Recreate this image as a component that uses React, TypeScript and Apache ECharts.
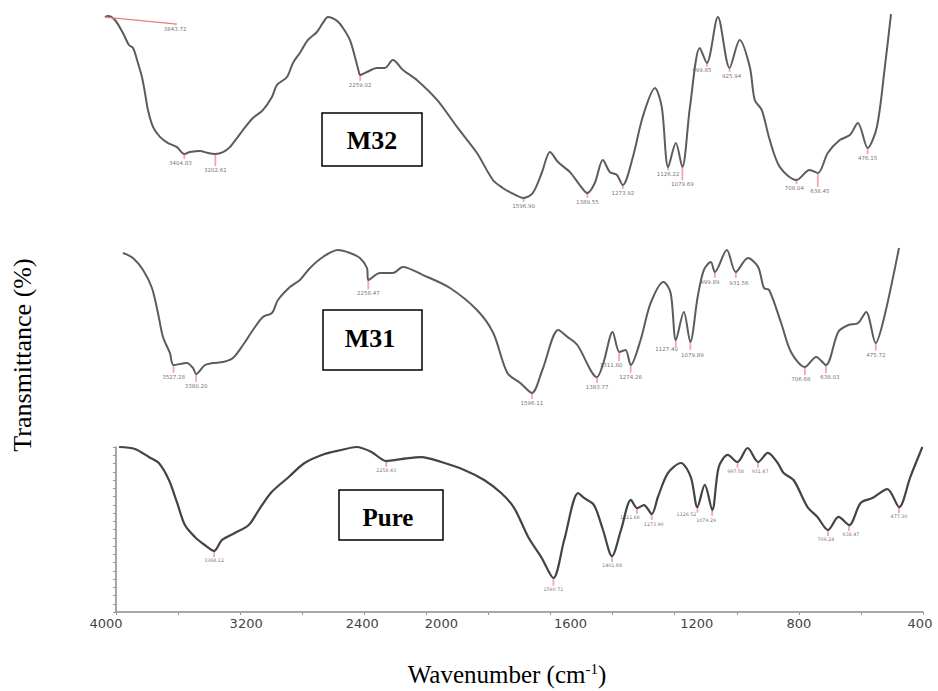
import React, { useEffect, useRef } from 'react';
import * as echarts from 'echarts';

// ---------- data (wavenumber in cm-1, transmittance in relative %) ----------
const M32_WN = [3922, 3902, 3857, 3805, 3766, 3739, 3713, 3681, 3661, 3642, 3609, 3564, 3511, 3453, 3405, 3368, 3303, 3251, 3203, 3153, 3108, 3062, 3023, 2958, 2893, 2834, 2801, 2736, 2697, 2652, 2599, 2541, 2502, 2469, 2410, 2371, 2326, 2293, 2270, 2259, 2215, 2150, 2098, 2046, 1990, 1945, 1879, 1814, 1749, 1697, 1665, 1642, 1597, 1567, 1538, 1511, 1485, 1446, 1414, 1390, 1365, 1339, 1316, 1293, 1274, 1241, 1209, 1169, 1147, 1126, 1101, 1080, 1055, 1023, 1000, 964, 926, 893, 860, 844, 821, 795, 762, 708, 665, 638, 606, 567, 534, 508, 476, 446, 420, 400];
const M32_T = [98.8, 99.5, 97.3, 90.3, 83.8, 82.2, 75.7, 66.5, 57.8, 48.6, 39.5, 34.1, 30.8, 28.6, 24.9, 25.9, 26.5, 25.4, 24.9, 25.9, 28.6, 33.5, 37.8, 44.3, 48.6, 55.7, 62.2, 66.5, 74.1, 79.5, 86.5, 90.8, 95.7, 98.9, 96.8, 93.0, 86.5, 77.3, 70.0, 67.6, 69.2, 71.4, 71.4, 75.7, 70.3, 64.9, 54.1, 39.5, 25.4, 10.8, 6.5, 4.3, 1.1, 3.8, 14.6, 25.9, 20.5, 15.1, 8.1, 3.8, 9.2, 21.6, 15.1, 13.5, 8.1, 23.2, 44.9, 60.5, 50.3, 17.8, 30.8, 17.8, 50.3, 82.2, 74.1, 98.9, 71.4, 86.5, 71.9, 54.1, 48.6, 32.4, 17.8, 10.8, 16.2, 14.6, 25.4, 32.4, 35.1, 41.6, 28.1, 39.5, 71.9, 100.5];

const M31_WN = [3857, 3792, 3726, 3668, 3629, 3596, 3551, 3527, 3440, 3401, 3380, 3323, 3270, 3205, 3140, 3075, 3010, 2945, 2886, 2847, 2769, 2704, 2638, 2554, 2456, 2378, 2313, 2267, 2258, 2182, 2098, 2033, 1951, 1863, 1775, 1722, 1676, 1634, 1596, 1562, 1510, 1480, 1448, 1384, 1363, 1333, 1311, 1291, 1274, 1242, 1209, 1167, 1144, 1127, 1101, 1080, 1056, 1036, 1013, 1000, 961, 932, 892, 859, 840, 823, 784, 752, 707, 670, 638, 598, 565, 533, 507, 476, 448, 400];
const M31_T = [96.6, 93.2, 85.0, 72.8, 55.8, 39.5, 28.6, 20.4, 21.8, 18.4, 14.3, 20.4, 21.8, 22.4, 25.2, 34.0, 44.2, 53.1, 55.8, 64.6, 73.5, 78.2, 86.4, 93.9, 98.6, 96.6, 93.2, 86.4, 78.2, 83.0, 83.0, 87.1, 81.6, 72.8, 57.8, 42.2, 15.0, 8.2, 1.4, 17.0, 44.2, 39.5, 34.0, 12.2, 21.8, 42.9, 29.3, 30.6, 20.4, 37.4, 62.6, 76.9, 69.4, 37.4, 56.5, 36.1, 66.7, 85.0, 90.5, 83.7, 98.6, 83.7, 93.2, 87.1, 72.8, 71.4, 49.0, 29.3, 19.0, 25.9, 20.4, 42.9, 47.6, 49.0, 56.5, 35.4, 53.1, 100];

const PURE_WN = [3980, 3878, 3788, 3724, 3659, 3608, 3556, 3492, 3428, 3368, 3318, 3235, 3145, 3080, 2997, 2887, 2785, 2656, 2547, 2450, 2354, 2258, 2161, 2032, 1952, 1878, 1814, 1759, 1717, 1672, 1630, 1591, 1556, 1511, 1492, 1460, 1431, 1402, 1373, 1341, 1321, 1299, 1274, 1254, 1222, 1180, 1148, 1127, 1103, 1079, 1058, 1029, 998, 965, 931, 900, 868, 849, 817, 772, 740, 706, 672, 638, 601, 563, 515, 477, 441, 402];
const PURE_T = [100, 98.8, 93.9, 90.3, 80.0, 66.7, 52.7, 45.5, 40.6, 37.0, 43.6, 47.9, 52.7, 61.8, 72.7, 81.8, 90.3, 95.8, 98.2, 100, 97.0, 91.5, 92.7, 93.9, 90.9, 86.1, 80.0, 72.1, 63.0, 45.5, 33.3, 20.6, 43.6, 72.1, 69.1, 64.8, 49.7, 33.9, 49.7, 67.9, 63.0, 64.8, 59.4, 69.7, 84.2, 90.3, 81.8, 63.6, 77.0, 61.8, 87.9, 95.2, 90.9, 99.4, 90.9, 96.4, 90.3, 84.2, 80.0, 63.6, 57.6, 49.7, 57.6, 52.7, 66.1, 69.1, 74.5, 63.6, 81.8, 100];

const M32_PEAKS = ['3404.83', '3202.61', '2259.02', '1596.90', '1389.55', '1273.92', '1126.22', '1079.69', '999.85', '925.94', '708.04', '638.45', '476.15'];
const M31_PEAKS = ['3527.28', '3380.20', '2258.47', '1596.11', '1383.77', '1311.80', '1274.26', '1127.40', '1079.89', '999.89', '931.56', '706.68', '638.03', '475.72'];
const PURE_PEAKS = ['3368.12', '2258.43', '1590.71', '1401.88', '1321.66', '1273.90', '1126.52', '1079.29', '997.58', '931.47', '706.24', '638.47', '477.30'];
const M32_FIRST_PEAK = '3843.72';

const X_TICK_LABELS = [4000, 3200, 2400, 2000, 1600, 1200, 800, 400];
const PANEL_NAMES = ['M32', 'M31', 'Pure'];

// ---------- styling (not data) ----------
const M32_TICK_LEN = [5, 12, 6, 4, 5, 4, 4, 14, 4, 4, 4, 14, 6];
const M31_TICK_LEN = [8, 8, 10, 6, 6, 10, 8, 8, 8, 6, 6, 8, 8, 8];
const PURE_TICK_LEN = [6, 6, 8, 6, 6, 6, 6, 6, 6, 6, 6, 6, 6];
const M32_LABEL_DX = [-4, 0, 0, 0, 0, 0, 0, 0, -5, 2, -2, 2, 0];
const M32_LABEL_DY = [0, 0, 0, 0, 0, 0, 0, 0, -1, 0, 0, 0, 0];
const M31_LABEL_DX = [0, 0, 0, 0, 0, -8, 0, -9, 2, -5, 3, -4, 4, 0];
const M31_LABEL_DY = [0, 0, 0, 0, 0, 0, 0, -2, 1, 0, 1, 0, 0, 0];
const PURE_LABEL_DX = [0, 0, 0, 0, -7, 2, -11, -6, -2, 2, -2, 2, 0];
const PURE_LABEL_DY = [0, 0, 0, 0, 0, 1, -2, 1, 0, 0, 0, 0, 0];
const X_LABEL_SHIFT = [-10, 6, -2, 15, 20, 22, 0, -3];

// scale break: below 2000 cm-1 the axis is expanded 2x
const toS = (wn: number) => (wn >= 2000 ? wn : 2 * wn - 2000);
const fromS = (s: number) => (s >= 2000 ? s : (s + 2000) / 2);

function interp(wns: number[], ts: number[], wn: number) {
  for (let i = 0; i < wns.length - 1; i++) {
    const a = wns[i];
    const b = wns[i + 1];
    if (wn <= a && wn >= b) {
      const f = (a - wn) / (a - b);
      return ts[i] + (ts[i + 1] - ts[i]) * f;
    }
  }
  return wn > wns[0] ? ts[0] : ts[ts.length - 1];
}

function curveSeries(idx: number, wns: number[], ts: number[], color: string, width: number) {
  return {
    type: 'line',
    xAxisIndex: idx,
    yAxisIndex: idx,
    data: wns.map((w, i) => [toS(w), ts[i]]),
    symbol: 'none',
    smooth: 0.3,
    clip: false,
    silent: true,
    lineStyle: { color, width },
    z: 3,
  };
}

function peakSeries(
  idx: number,
  wns: number[],
  ts: number[],
  labels: string[],
  lens: number[],
  dxs: number[],
  dys: number[],
  fontSize: number
) {
  return {
    type: 'scatter',
    xAxisIndex: idx,
    yAxisIndex: idx,
    silent: true,
    clip: false,
    z: 2,
    data: labels.map((lab, i) => {
      const wn = parseFloat(lab);
      const L = lens[i];
      return {
        value: [toS(wn), interp(wns, ts, wn)],
        symbol: 'rect',
        symbolSize: [1.8, L],
        symbolOffset: [0, L / 2],
        itemStyle: { color: '#f29090' },
        label: {
          show: true,
          formatter: lab,
          position: 'bottom',
          distance: 1,
          offset: [dxs[i], dys[i]],
          fontSize,
          color: '#4a4a4a',
          fontFamily: 'DejaVu Sans',
        },
      };
    }),
  };
}

export default function App() {
  const ref = useRef<HTMLDivElement>(null);

  useEffect(() => {
    if (!ref.current) return;
    const chart = echarts.init(ref.current, null, { renderer: 'svg' });

    const grids = [
      { left: 93, width: 798, top: 5.75, height: 194.25 },
      { left: 101, width: 798, top: 240.65, height: 154.35 },
      { left: 116, width: 807, top: 447, height: 165 },
    ];

    const rich: Record<string, any> = {};
    X_TICK_LABELS.forEach((v, i) => {
      const d = X_LABEL_SHIFT[i];
      rich['l' + i] = {
        fontSize: 13,
        color: '#444',
        fontFamily: 'DejaVu Sans',
        padding: d >= 0 ? [0, 0, 0, 2 * d] : [0, -2 * d, 0, 0],
      };
    });

    const hiddenX = (g: number) => ({
      gridIndex: g,
      type: 'value',
      min: -1200,
      max: 4000,
      inverse: true,
      show: false,
    });
    const hiddenY = (g: number) => ({
      gridIndex: g,
      type: 'value',
      min: 0,
      max: 105,
      show: false,
    });

    const option: any = {
      animation: false,
      backgroundColor: '#ffffff',
      grid: grids,
      xAxis: [
        hiddenX(0),
        hiddenX(1),
        {
          gridIndex: 2,
          type: 'value',
          min: -1200,
          max: 4000,
          interval: 400,
          inverse: true,
          axisLine: { show: true, onZero: false, lineStyle: { color: '#8a8a8a', width: 1.5 } },
          axisTick: { show: true, length: 3, lineStyle: { color: '#9a9a9a' } },
          splitLine: { show: false },
          axisLabel: {
            show: true,
            showMinLabel: true,
            showMaxLabel: true,
            margin: 5,
            fontSize: 13,
            color: '#444',
            fontFamily: 'DejaVu Sans',
            formatter: (s: number) => {
              const wn = Math.round(fromS(s));
              const i = X_TICK_LABELS.indexOf(wn);
              return i < 0 ? '' : '{l' + i + '|' + wn + '}';
            },
            rich,
          },
        },
      ],
      yAxis: [
        hiddenY(0),
        hiddenY(1),
        {
          gridIndex: 2,
          type: 'value',
          min: 0,
          max: 100,
          interval: 5,
          axisLine: { show: true, onZero: false, lineStyle: { color: '#8a8a8a', width: 1.5 } },
          axisTick: { show: true, length: 3, lineStyle: { color: '#9a9a9a' } },
          axisLabel: { show: false },
          splitLine: { show: false },
        },
      ],
      series: [
        curveSeries(0, M32_WN, M32_T, '#5c5c5c', 2),
        curveSeries(1, M31_WN, M31_T, '#5c5c5c', 2),
        curveSeries(2, PURE_WN, PURE_T, '#444444', 2.2),
        peakSeries(0, M32_WN, M32_T, M32_PEAKS, M32_TICK_LEN, M32_LABEL_DX, M32_LABEL_DY, 5.5),
        peakSeries(1, M31_WN, M31_T, M31_PEAKS, M31_TICK_LEN, M31_LABEL_DX, M31_LABEL_DY, 5.5),
        peakSeries(2, PURE_WN, PURE_T, PURE_PEAKS, PURE_TICK_LEN, PURE_LABEL_DX, PURE_LABEL_DY, 4.8),
        {
          type: 'line',
          xAxisIndex: 0,
          yAxisIndex: 0,
          silent: true,
          symbol: 'none',
          clip: false,
          lineStyle: { color: '#f07a7a', width: 1.2 },
          data: [
            [toS(M32_WN[0]), M32_T[0]],
            [toS(3453), 95.1],
          ],
          z: 4,
        },
        {
          type: 'scatter',
          xAxisIndex: 0,
          yAxisIndex: 0,
          silent: true,
          clip: false,
          data: [
            {
              value: [toS(3465), 94.6],
              symbol: 'circle',
              symbolSize: 1,
              itemStyle: { color: '#f07a7a' },
              label: {
                show: true,
                formatter: M32_FIRST_PEAK,
                position: 'bottom',
                distance: 1,
                fontSize: 5.5,
                color: '#4a4a4a',
                fontFamily: 'DejaVu Sans',
              },
            },
          ],
        },
      ],
      graphic: [
        { type: 'rect', shape: { x: 322, y: 113, width: 100, height: 53 }, style: { fill: '#fff', stroke: '#000', lineWidth: 1.5 }, z: 10 },
        { type: 'text', x: 372, y: 140, z: 11, style: { text: PANEL_NAMES[0], fontFamily: 'Liberation Serif', fontWeight: 'bold', fontSize: 26, fill: '#000', align: 'center', verticalAlign: 'middle' } },
        { type: 'rect', shape: { x: 323, y: 310, width: 99, height: 60 }, style: { fill: '#fff', stroke: '#000', lineWidth: 1.5 }, z: 10 },
        { type: 'text', x: 370, y: 338, z: 11, style: { text: PANEL_NAMES[1], fontFamily: 'Liberation Serif', fontWeight: 'bold', fontSize: 26, fill: '#000', align: 'center', verticalAlign: 'middle' } },
        { type: 'rect', shape: { x: 339, y: 490, width: 104, height: 50 }, style: { fill: '#fff', stroke: '#000', lineWidth: 1.5 }, z: 10 },
        { type: 'text', x: 388, y: 517, z: 11, style: { text: PANEL_NAMES[2], fontFamily: 'Liberation Serif', fontWeight: 'bold', fontSize: 25, fill: '#000', align: 'center', verticalAlign: 'middle' } },
        {
          type: 'text',
          x: 22,
          y: 355,
          rotation: Math.PI / 2,
          style: { text: 'Transmittance (%)', fontFamily: 'Liberation Serif', fontSize: 26, fill: '#000', align: 'center', verticalAlign: 'middle' },
        },
        {
          type: 'text',
          x: 507,
          y: 674,
          style: {
            text: '{a|Wavenumber (cm}{s|-1}{a|)}',
            align: 'center',
            verticalAlign: 'middle',
            rich: {
              a: { fontFamily: 'Liberation Serif', fontSize: 25, fill: '#000', verticalAlign: 'bottom' },
              s: { fontFamily: 'Liberation Serif', fontSize: 15, fill: '#000', verticalAlign: 'top' },
            },
          },
        },
      ],
    };

    chart.setOption(option);
    return () => chart.dispose();
  }, []);

  return <div ref={ref} style={{ position: 'absolute', left: 0, top: 0, width: 938, height: 691 }} />;
}
